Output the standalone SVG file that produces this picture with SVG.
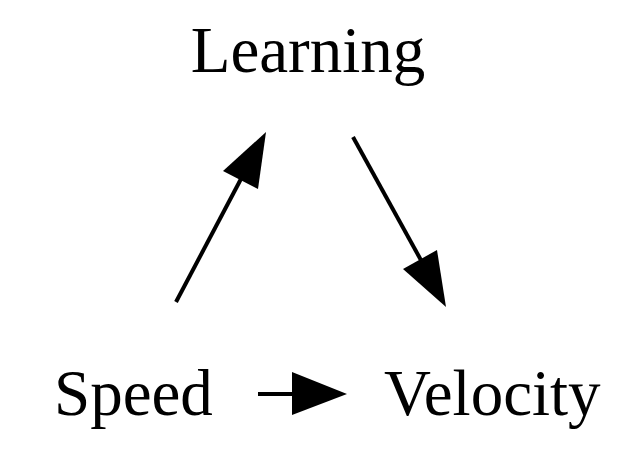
<svg xmlns="http://www.w3.org/2000/svg" width="640" height="451" viewBox="0 0 640 451">
<style>
.lbl{font-family:"Liberation Serif","Times New Roman",serif;font-size:65px;fill:#000}
.edge{stroke:#000;stroke-width:4;fill:none}
.head{fill:#000}
</style>
<rect width="640" height="451" fill="#fff"/>
<g id="node-learning"><text class="lbl" x="308" y="72" text-anchor="middle">Learning</text></g>
<g id="node-speed"><text class="lbl" x="54" y="415">Speed</text></g>
<g id="node-velocity"><text class="lbl" x="384" y="415">Velocity</text></g>
<g id="connectors">
<line class="edge" x1="176" y1="302" x2="242" y2="177"/>
<polygon class="head" points="266,132 258,189 223,171"/>
<line class="edge" x1="353" y1="137" x2="422" y2="262"/>
<polygon class="head" points="446,307 403,269 437,250"/>
<line class="edge" x1="258" y1="394" x2="294" y2="394"/>
<polygon class="head" points="347,394 292,372 292,415"/>
</g>
</svg>
